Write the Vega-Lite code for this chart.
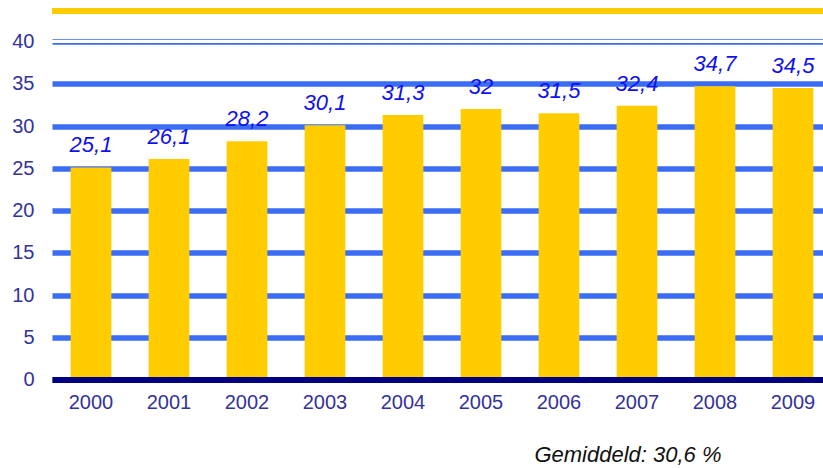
{
  "$schema": "https://vega.github.io/schema/vega-lite/v6.json",
  "autosize": "none",
  "width": 780,
  "height": 338,
  "padding": {"left": 52, "top": 41.5, "right": 0, "bottom": 88.5},
  "background": "white",
  "config": {"view": {"stroke": null}, "font": "Liberation Sans"},
  "data": {"values": [
    {"year": "2000", "value": 25.1, "label": "25,1"},
    {"year": "2001", "value": 26.1, "label": "26,1"},
    {"year": "2002", "value": 28.2, "label": "28,2"},
    {"year": "2003", "value": 30.1, "label": "30,1"},
    {"year": "2004", "value": 31.3, "label": "31,3"},
    {"year": "2005", "value": 32.0, "label": "32"},
    {"year": "2006", "value": 31.5, "label": "31,5"},
    {"year": "2007", "value": 32.4, "label": "32,4"},
    {"year": "2008", "value": 34.7, "label": "34,7"},
    {"year": "2009", "value": 34.5, "label": "34,5"}
  ]},
  "encoding": {
    "x": {"field": "year", "type": "nominal", "sort": null,
      "scale": {"paddingInner": 0.478, "paddingOuter": 0.239},
      "axis": {"labelAngle": 0, "ticks": false, "labelPadding": 13, "labelFontSize": 20, "labelColor": "#333399",
        "domain": true, "domainColor": "#000080", "domainWidth": 6, "zindex": 1,
        "title": "Gemiddeld: 30,6 %", "titleFontStyle": "italic", "titleFontWeight": "normal", "titleFontSize": 22,
        "titleColor": "#111111", "titleAlign": "right", "titleAnchor": "start", "titleX": 669, "titleY": 82, "titleBaseline": "alphabetic"}}
  },
  "layer": [
    {
      "mark": {"type": "bar", "color": "#ffcc00"},
      "encoding": {
        "y": {"field": "value", "type": "quantitative",
          "scale": {"domain": [0, 40], "nice": false},
          "axis": {"values": [0, 5, 10, 15, 20, 25, 30, 35, 40], "ticks": false, "domain": false, "labelPadding": 18,
            "labelFontSize": 20, "labelColor": "#333399", "title": null,
            "grid": true, "gridColor": "#3a6cf4", "gridWidth": 5.5, "gridOpacity": 1}}
      }
    },
    {
      "data": {"values": [{"y": 40}]},
      "mark": {"type": "rule", "color": "white", "strokeWidth": 2.8},
      "encoding": {"y": {"field": "y", "type": "quantitative"}, "x": null}
    },
    {
      "data": {"values": [{"y": 43.6}]},
      "mark": {"type": "rule", "color": "#ffcc00", "strokeWidth": 6, "clip": false},
      "encoding": {"y": {"field": "y", "type": "quantitative"}, "x": null}
    },
    {
      "mark": {"type": "text", "baseline": "alphabetic", "dy": -15, "fontSize": 22, "fontStyle": "italic", "color": "#1010ee"},
      "encoding": {
        "y": {"field": "value", "type": "quantitative"},
        "text": {"field": "label"}
      }
    }
  ]
}
